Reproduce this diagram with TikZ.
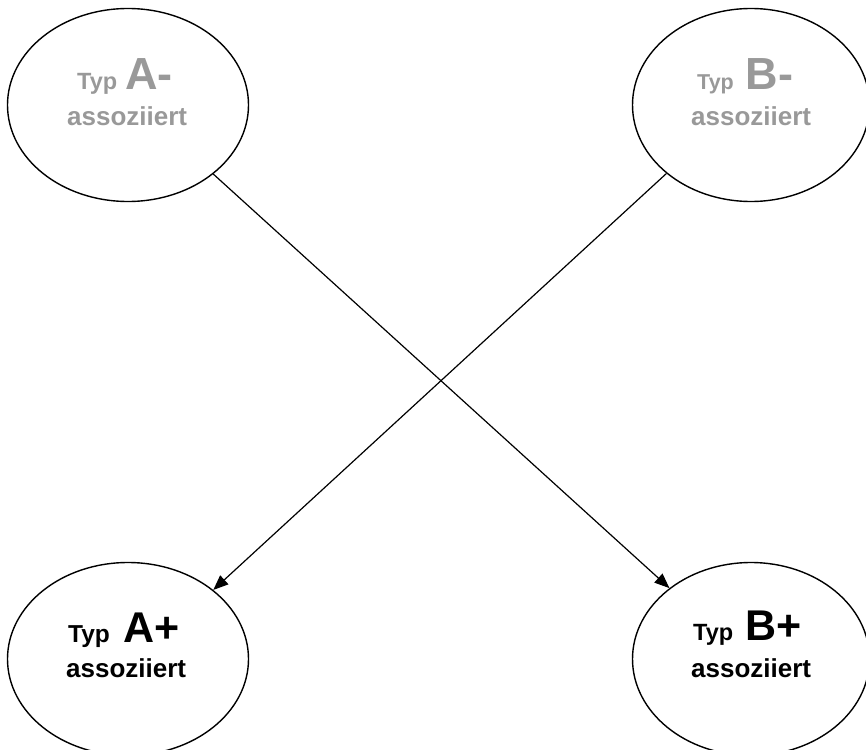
\documentclass[tikz,border=0pt]{standalone}
\usepackage{fontspec}
\setmainfont{Liberation Sans}
\usetikzlibrary{shapes.geometric,arrows.meta}
\definecolor{ltgray}{RGB}{153,153,153}
\tikzset{
  oval/.style={draw=black, line width=1.4pt, ellipse, minimum width=241pt, minimum height=193pt, inner sep=0pt},
  lbl/.style={anchor=base west, inner sep=0pt, font=\bfseries},
  conn/.style={line width=1.2pt, -{Triangle[length=15pt,width=12pt]}}
}
\newcommand{\fs}[1]{\fontsize{#1}{#1}\selectfont}
\begin{document}
\begin{tikzpicture}[x=1pt,y=-1pt]
\useasboundingbox (0,0) rectangle (866,749);
\begin{scope}
\clip (0,0) rectangle (866,749);
\node[oval] (tl) at (128,105) {};
\node[oval, minimum width=237pt] (tr) at (751,105) {};
\node[oval] (bl) at (128,659) {};
\node[oval, minimum width=237pt] (br) at (751,659) {};
\end{scope}
% labels
\node[lbl, text=ltgray] (tl1) at (77,90) {\fs{23.5}Typ\hspace{8pt}\fs{45}A-};
\node[lbl, text=ltgray] (tl2) at (67,125) {\fs{26}assoziiert};
\node[lbl, text=ltgray] (tr1) at (697,90) {\fs{21.5}Typ\hspace{12pt}\fs{45}B-};
\node[lbl, text=ltgray] (tr2) at (691,125) {\fs{26}assoziiert};
\node[lbl] (bl1) at (68,642) {\fs{24.5}Typ\hspace{14pt}\fs{43}A+};
\node[lbl] (bl2) at (66,677) {\fs{26}assoziiert};
\node[lbl] (br1) at (693,640) {\fs{23.5}Typ\hspace{12pt}\fs{43}B+};
\node[lbl] (br2) at (691,677) {\fs{26}assoziiert};
% connectors
\draw[conn] (tl.-39) -- (br.139.5);
\draw[conn] (tr.-141) -- (bl.39);
\end{tikzpicture}
\end{document}
